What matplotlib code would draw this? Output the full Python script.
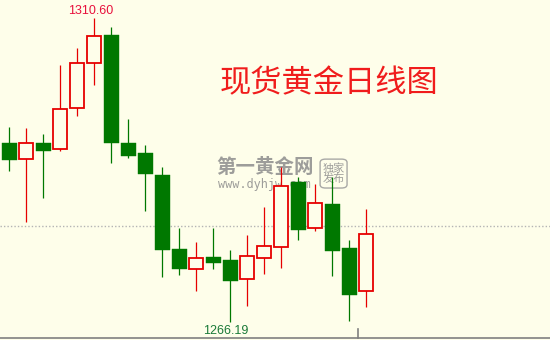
#!/usr/bin/env python3

# Spot gold daily candlestick chart

import numpy as np
from matplotlib import pyplot as plt
from matplotlib.patches import FancyBboxPatch
import matplotlib

matplotlib.rcParams.update({
    'font.family': ['Noto Sans CJK SC', 'DejaVu Sans'],
    'figure.dpi': 100,
})

# daily OHLC
opens  = [1292.34, 1290.00, 1292.34, 1291.46, 1297.45, 1304.03, 1308.12, 1292.34,
          1290.88, 1287.66, 1276.85, 1273.93, 1275.68, 1275.25, 1272.47, 1275.54,
          1277.15, 1286.64, 1279.92, 1283.43, 1277.00, 1270.72]
highs  = [1294.68, 1294.53, 1293.65, 1303.73, 1306.22, 1310.60, 1309.29, 1295.85,
          1292.05, 1288.83, 1279.92, 1277.88, 1279.92, 1276.71, 1278.90, 1282.99,
          1288.83, 1287.37, 1286.35, 1287.37, 1278.17, 1282.70]
lows   = [1288.25, 1280.80, 1284.30, 1291.17, 1296.28, 1300.81, 1289.42, 1290.15,
          1282.40, 1272.76, 1273.06, 1270.72, 1273.93, 1266.19, 1268.53, 1273.20,
          1274.08, 1278.17, 1279.48, 1272.91, 1266.33, 1268.38]
closes = [1289.85, 1292.34, 1291.17, 1297.31, 1304.03, 1307.97, 1292.34, 1290.44,
          1287.81, 1276.71, 1273.93, 1275.54, 1274.81, 1272.18, 1275.83, 1277.29,
          1286.06, 1279.63, 1283.57, 1276.56, 1270.13, 1279.04]
ref_price = 1280.17
title = "现货黄金日线图"

bg = '#fefeea'
up_col = '#e60000'
down_col = '#007800'

fig = plt.figure(figsize=(5.5, 3.4), facecolor=bg)
ax = fig.add_axes([0, 0, 1, 1])
ax.set_facecolor(bg)
ax.set_xlim(-0.547, 31.806)
ax.set_ylim(1263.56, 1313.23)
ax.axis('off')

o = np.array(opens)
h = np.array(highs)
l = np.array(lows)
c = np.array(closes)
idx = np.arange(len(o))
up = c >= o

ax.axhline(ref_price, color='#b4b4b4', lw=1.0, ls=(0, (1, 1.5)), zorder=1)

# watermark
ax.text(0.394, 0.507, "第一黄金网", transform=ax.transAxes, ha='left', va='center',
        fontsize=14, fontweight='bold', color='#8c8c8c', alpha=0.85, zorder=1.5)
ax.text(0.396, 0.458, "www.dyhjw.com", transform=ax.transAxes, ha='left', va='center',
        fontsize=8.6, family='DejaVu Sans Mono', color='#8c8c8c', alpha=0.85, zorder=1.5)
box = FancyBboxPatch((0.582, 0.447), 0.049, 0.085, transform=ax.transAxes,
                     boxstyle='round,pad=0,rounding_size=0.01', fc='none',
                     ec='#9a9a9a', lw=1.0, alpha=0.85, zorder=1.5)
ax.add_patch(box)
ax.text(0.6065, 0.489, "独家\n发布", transform=ax.transAxes, ha='center', va='center',
        fontsize=8, color='#8c8c8c', linespacing=0.9, alpha=0.85, zorder=1.5)

# wicks
ax.vlines(idx[up], l[up], h[up], color=up_col, lw=0.9, zorder=2)
ax.vlines(idx[~up], l[~up], h[~up], color=down_col, lw=0.9, zorder=2)

# bodies
w = 0.84
ax.bar(idx[up], c[up] - o[up], bottom=o[up], width=w, facecolor=bg,
       edgecolor=up_col, lw=1.3, zorder=3)
ax.bar(idx[~up], o[~up] - c[~up], bottom=c[~up], width=w + 0.04, facecolor=down_col,
       edgecolor=down_col, lw=0.3, zorder=3)

# high / low labels
hi = int(np.argmax(h))
lo = int(np.argmin(l))
ax.text(0.164, 0.968, f"{h[hi]:.2f}", transform=ax.transAxes, ha='center', va='center',
        fontsize=9, family='Liberation Sans', color='#e8103c')
ax.text(0.411, 0.026, f"{l[lo]:.2f}", transform=ax.transAxes, ha='center', va='center',
        fontsize=9, family='Liberation Sans', color='#1a7a38')

ax.text(0.598, 0.755, title, transform=ax.transAxes, ha='center', va='center',
        fontsize=22.5, color='#f01c1c')

# bottom border and date separator
ax.plot([0, 1], [0.006, 0.006], transform=ax.transAxes, color='#808080', lw=1.2,
        zorder=4, clip_on=False)
ax.plot([0.651, 0.651], [0.006, 0.032], transform=ax.transAxes, color='#808080',
        lw=1.2, zorder=4)

plt.savefig("out.png", dpi=100, facecolor=bg)
